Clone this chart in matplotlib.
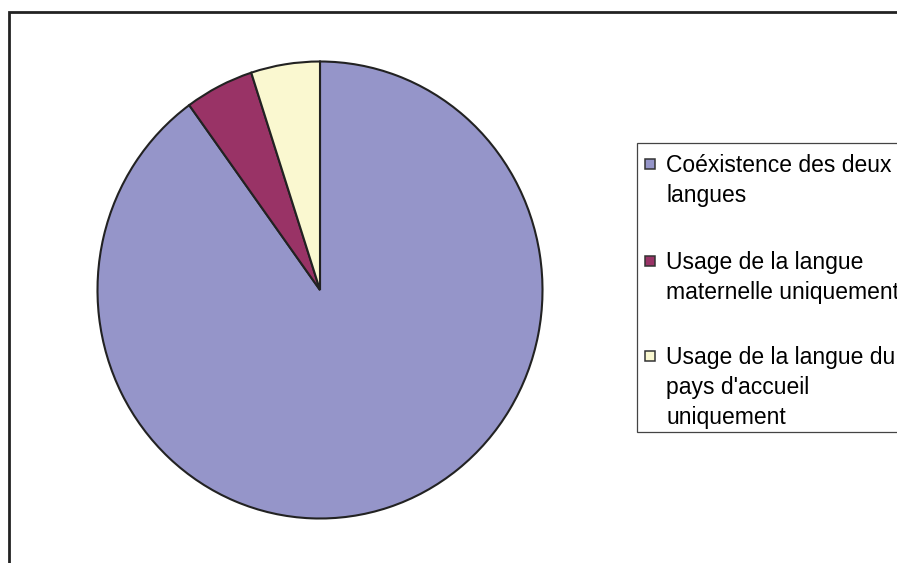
import matplotlib
matplotlib.use("Agg")
import matplotlib.pyplot as plt
from matplotlib.patches import Rectangle

plt.rcParams['font.family'] = ['Liberation Sans', 'DejaVu Sans']

categories = ["Coéxistence des deux\nlangues",
              "Usage de la langue\nmaternelle uniquement",
              "Usage de la langue du\npays d'accueil\nuniquement"]
values = [90, 5, 5]
colors = ["#9595C9", "#993366", "#FAF8D0"]

W, H = 897, 563
fig = plt.figure(figsize=(W / 100, H / 100), dpi=100)

def fx(x):
    return x / W

def fy(y):
    return 1 - y / H

# outer chart frame (extends beyond right/bottom)
fig.patches.append(Rectangle((fx(9), fy(620)), fx(1000), (620 - 11.5) / H,
                             transform=fig.transFigure, fill=False,
                             edgecolor="#222222", linewidth=2.0))

# pie axes
cx, cy, rx, ry = 320, 290, 222.5, 228.5
ax = fig.add_axes([fx(cx - rx), fy(cy + ry), 2 * rx / W, 2 * ry / H])
wedges, _ = ax.pie(values, colors=colors, startangle=90, counterclock=False,
                   wedgeprops=dict(edgecolor="#222222", linewidth=1.5))
ax.set_aspect('auto')
ax.set_xlim(-1, 1)
ax.set_ylim(-1, 1)
ax.axis('off')

# legend box
fig.patches.append(Rectangle((fx(636.5), fy(432)), fx(400), (432 - 143) / H,
                             transform=fig.transFigure, fill=True, facecolor="white",
                             edgecolor="#444444", linewidth=0.9))

first_line_y = [163, 260, 355]
line_h = 30
fs = 16.5
for i, (lab, col) in enumerate(zip(categories, colors)):
    y0 = first_line_y[i]
    fig.patches.append(Rectangle((fx(645), fy(y0 + 5.5)), 10 / W, 10 / H,
                                 transform=fig.transFigure, facecolor=col,
                                 edgecolor="#333333", linewidth=1.1))
    for j, line in enumerate(lab.split("\n")):
        fig.text(fx(666), fy(y0 + j * line_h), line, fontsize=fs,
                 ha='left', va='center_baseline', color="#000000")

fig.savefig("out.png", dpi=100)
